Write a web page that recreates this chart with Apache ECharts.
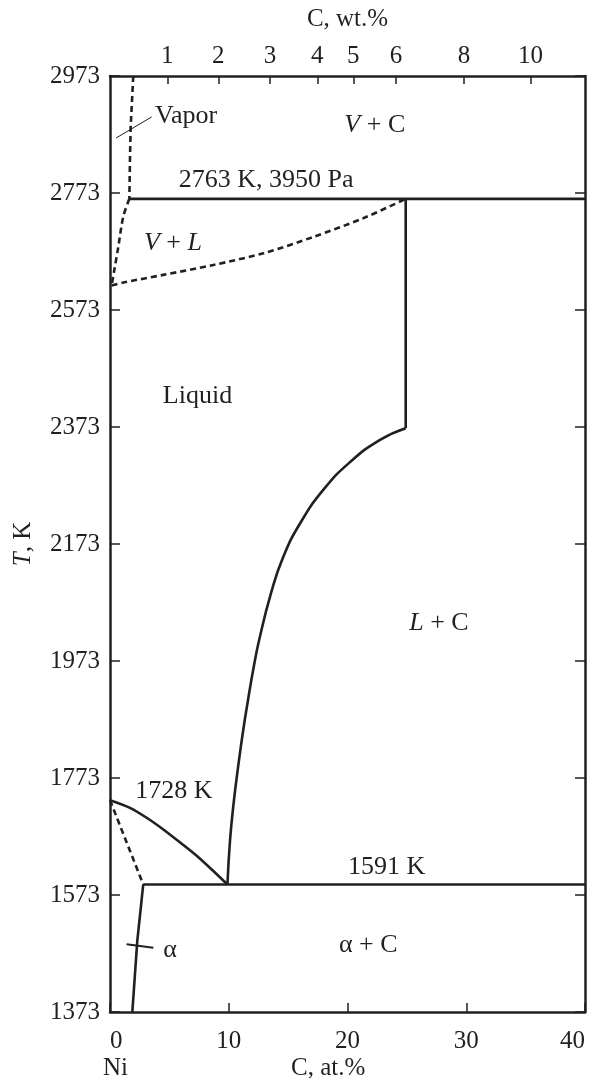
<!DOCTYPE html>
<html>
<head>
<meta charset="utf-8">
<script src="https://cdn.jsdelivr.net/npm/echarts@6/dist/echarts.min.js"></script>
<style>html,body{margin:0;padding:0;background:#fff}#c{width:597px;height:1080px}</style>
</head>
<body>
<div id="c"></div>
<script>
// ---------- data ----------
const tempTicks = [1373, 1573, 1773, 1973, 2173, 2373, 2573, 2773, 2973];
const atTicks = [0, 10, 20, 30, 40];
const wtTickLabels = ['1', '2', '3', '4', '5', '6', '8', '10'];
const wtTickAt = [4.83, 9.12, 13.47, 17.46, 20.49, 24.08, 29.8, 35.4]; // at.% position of each wt.% tick

// phase boundaries [C at.%, T K]
const vaporBoundary = [[1.96, 2973], [1.74, 2886], [1.68, 2829], [1.63, 2763]];
const vlLeft = [[1.63, 2763], [1.12, 2733], [0.70, 2681], [0.36, 2641], [0.14, 2615]];
const vlLower = [[0.14, 2615], [1.12, 2620], [4.49, 2633], [8.70, 2650], [12.92, 2670], [17.13, 2698], [21.34, 2730], [24.9, 2763]];
const line2763 = [[1.63, 2763], [40, 2763]];
const carbideVertical = [[24.9, 2763], [24.9, 2371]];
const liquidusC = [[24.9, 2371], [22.74, 2351], [20.21, 2313], [17.94, 2265], [16.0, 2208], [14.57, 2150], [13.56, 2089], [12.55, 2008], [12.06, 1958], [11.62, 1906], [11.22, 1855], [10.86, 1803], [10.44, 1735], [10.11, 1667], [9.89, 1591]];
const liquidusNi = [[0, 1735], [1.68, 1722], [3.09, 1705], [4.49, 1685], [5.89, 1663], [7.30, 1640], [8.70, 1614], [9.89, 1591]];
const solidus = [[0, 1735], [2.80, 1591]];
const line1591 = [[2.80, 1591], [40, 1591]];
const solvus = [[2.80, 1591], [2.30, 1495], [1.88, 1373]];
const alphaLeader = [[1.40, 1489], [3.65, 1483]];
const vaporLeader = [[0.51, 2867], [3.51, 2903]];

// region / point labels
const labelTexts = ['Vapor', '{i|V} + C', '2763 K, 3950 Pa', '{i|V} + {i|L}', 'Liquid', '{i|L} + C', '1728 K', '1591 K', 'α', 'α + C'];
const labelAt = [3.79, 22.3, 13.14, 5.3, 7.37, 27.7, 5.39, 23.3, 5.05, 21.75];
const labelT = [2905, 2889, 2795, 2688, 2425, 2037, 1750, 1621, 1479, 1487];
const labelAlign = ['left', 'center', 'center', 'center', 'center', 'center', 'center', 'center', 'center', 'center'];

// ---------- chart ----------
const FONT = "'Liberation Serif','Times New Roman',serif";
const INK = '#231f20';
const FS = 25;
const FSA = 26;

const chart = echarts.init(document.getElementById('c'), null, {renderer: 'canvas'});

function lineSeries(data, dashed, width, smooth) {
  return {
    type: 'line', data: data, xAxisIndex: 0, yAxisIndex: 0,
    showSymbol: false, symbol: 'none', smooth: smooth || false, clip: false,
    silent: true, animation: false,
    lineStyle: {color: INK, width: width || 2.6, type: dashed ? [6, 4] : 'solid', cap: 'butt', opacity: 1}
  };
}

const axisLine = {onZero: false, lineStyle: {color: INK, width: 2.5}};
const labelStyle = {color: INK, fontSize: FS, fontFamily: FONT};

const option = {
  animation: false,
  backgroundColor: '#fff',
  grid: {left: 110, top: 76, width: 475, height: 936, containLabel: false},
  xAxis: [
    {
      type: 'value', position: 'bottom', min: 0, max: 40, interval: 10,
      axisLine: axisLine,
      axisTick: {inside: true, length: 9, lineStyle: {color: INK, width: 1.5}},
      axisLabel: Object.assign({margin: 17, alignMinLabel: 'left', alignMaxLabel: 'right'}, labelStyle),
      splitLine: {show: false}
    },
    {
      type: 'value', position: 'top', min: 0, max: 40,
      axisLine: axisLine,
      axisTick: {inside: true, length: 8, customValues: wtTickAt, lineStyle: {color: INK, width: 1.5}},
      axisLabel: Object.assign({
        margin: 7, customValues: wtTickAt,
        formatter: function (v) {
          for (let i = 0; i < wtTickAt.length; i++) if (Math.abs(wtTickAt[i] - v) < 1e-6) return wtTickLabels[i];
          return '';
        }
      }, labelStyle),
      splitLine: {show: false},
      name: 'C, wt.%', nameLocation: 'middle', nameGap: 44,
      nameTextStyle: labelStyle
    }
  ],
  yAxis: [
    {
      type: 'value', position: 'left', min: 1373, max: 2973,
      axisLine: axisLine,
      axisTick: {inside: true, length: 10, customValues: tempTicks, lineStyle: {color: INK, width: 1.5}},
      axisLabel: Object.assign({margin: 10, customValues: tempTicks, formatter: function (v) { return String(v); }}, labelStyle),
      splitLine: {show: false},
      name: '{i|T}, K', nameLocation: 'middle', nameGap: 74, nameRotate: 90,
      nameTextStyle: Object.assign({rich: {i: {fontStyle: 'italic', fontSize: FS, fontFamily: FONT, color: INK}}}, labelStyle)
    },
    {
      type: 'value', position: 'right', min: 1373, max: 2973,
      axisLine: axisLine,
      axisTick: {inside: true, length: 10, customValues: tempTicks, lineStyle: {color: INK, width: 1.5}},
      axisLabel: {show: false},
      splitLine: {show: false}
    }
  ],
  graphic: [
    {type: 'text', left: 103, top: 1056, style: {text: 'Ni', fill: INK, font: FS + 'px ' + FONT}},
    {type: 'text', left: 291, top: 1056, style: {text: 'C, at.%', fill: INK, font: FS + 'px ' + FONT}}
  ],
  series: [
    lineSeries(vaporBoundary, true),
    lineSeries(vlLeft, true, 2.6, 0.3),
    lineSeries(vlLower, true, 2.6, 0.3),
    lineSeries(line2763, false),
    lineSeries(carbideVertical, false),
    lineSeries(liquidusC, false, 2.6, 0.5),
    lineSeries(liquidusNi, false, 2.6, 0.3),
    lineSeries(solidus, true),
    lineSeries(line1591, false),
    lineSeries(solvus, false),
    lineSeries(alphaLeader, false, 2),
    lineSeries(vaporLeader, false, 1),
    {
      type: 'scatter', xAxisIndex: 0, yAxisIndex: 0, symbolSize: 0, silent: true,
      itemStyle: {opacity: 1},
      data: labelTexts.map(function (t, i) {
        return {
          value: [labelAt[i], labelT[i]],
          label: {
            show: true, position: 'inside', formatter: t, opacity: 1,
            align: labelAlign[i], verticalAlign: 'middle',
            color: INK, fontSize: FSA, fontFamily: FONT,
            rich: {i: {fontStyle: 'italic', fontSize: FSA, fontFamily: FONT, color: INK}}
          }
        };
      })
    }
  ]
};
chart.setOption(option);
</script>
</body>
</html>
